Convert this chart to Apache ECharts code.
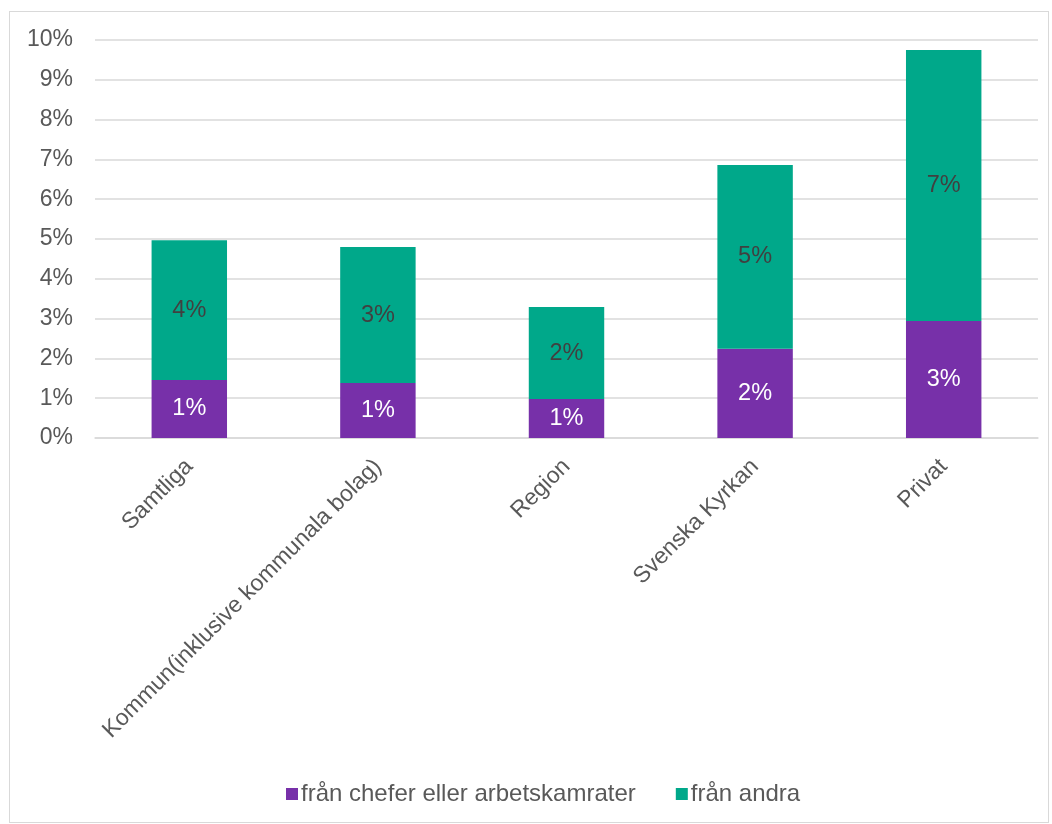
<!DOCTYPE html>
<html>
<head>
<meta charset="utf-8">
<script src="https://cdn.jsdelivr.net/npm/echarts@6/dist/echarts.min.js"></script>
<style>
  html, body { margin: 0; padding: 0; background: #fff; }
  #frame { position: absolute; left: 9px; top: 11px; width: 1040px; height: 812px; border: 1px solid #d9d9d9; box-sizing: border-box; }
  #chart { position: absolute; left: 0; top: 0; width: 1052px; height: 824px; }
</style>
</head>
<body>
<div id="frame"></div>
<div id="chart"></div>
<script>
// Andel (%) per sektor
const categories = ['Samtliga', 'Kommun(inklusive kommunala bolag)', 'Region', 'Svenska Kyrkan', 'Privat'];
const chefer = [1.46, 1.38, 0.98, 2.24, 2.94];
const andra = [3.51, 3.42, 2.31, 4.62, 6.81];
const yTicks = [0, 1, 2, 3, 4, 5, 6, 7, 8, 9, 10];

const font = '"Liberation Sans", Arial, sans-serif';
const chart = echarts.init(document.getElementById('chart'), null, { renderer: 'canvas' });

chart.setOption({
  animation: false,
  textStyle: { fontFamily: font },
  grid: { left: 95, right: 14, top: 40, bottom: 386, containLabel: false },
  legend: {
    top: 777,
    left: 281,
    itemWidth: 12,
    itemHeight: 12,
    itemGap: 40,
    icon: 'rect',
    textStyle: { fontSize: 24, color: '#595959', fontFamily: font, padding: [0, 0, 0, -2] },
    data: ['från chefer eller arbetskamrater', 'från andra']
  },
  xAxis: {
    type: 'category',
    data: categories,
    axisLine: { show: true, lineStyle: { color: '#d9d9d9', width: 1.5 } },
    axisTick: { show: false },
    axisLabel: { rotate: 45, fontSize: 23, color: '#595959', margin: 25, fontFamily: font, interval: 0 }
  },
  yAxis: {
    type: 'value',
    min: yTicks[0],
    max: yTicks[yTicks.length - 1],
    interval: 1,
    axisLine: { show: false },
    axisTick: { show: false },
    splitLine: { lineStyle: { color: '#d9d9d9', width: 1.5 } },
    axisLabel: { fontSize: 23, color: '#595959', margin: 22, fontFamily: font, formatter: v => v + '%' }
  },
  series: [
    {
      name: 'från chefer eller arbetskamrater',
      type: 'bar',
      stack: 'total',
      barWidth: '40%',
      data: chefer,
      itemStyle: { color: '#7730A9' },
      label: { show: true, position: 'inside', fontSize: 23.5, color: '#ffffff', fontFamily: font, formatter: p => Math.round(p.value) + '%' }
    },
    {
      name: 'från andra',
      type: 'bar',
      stack: 'total',
      barWidth: '40%',
      data: andra,
      itemStyle: { color: '#00A88A' },
      label: { show: true, position: 'inside', fontSize: 23.5, color: '#404040', fontFamily: font, formatter: p => Math.round(p.value) + '%' }
    }
  ]
});
</script>
</body>
</html>
